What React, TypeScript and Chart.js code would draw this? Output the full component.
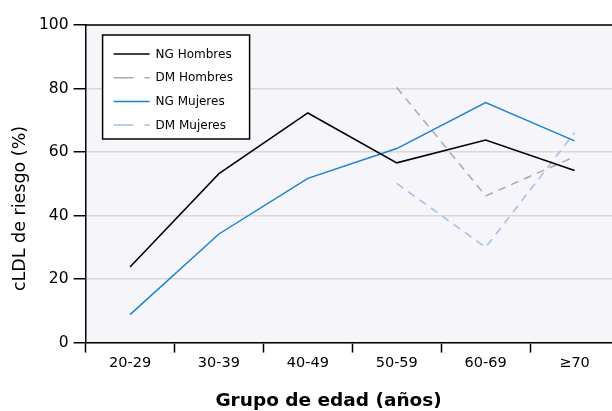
import React, { useEffect, useRef } from "react";
import { Chart, registerables } from "chart.js";

Chart.register(...registerables);

const categories = ["20-29", "30-39", "40-49", "50-59", "60-69", "≥70"];
const ngHombres = [23.8, 53.2, 72.3, 56.6, 63.8, 54.2];
const dmHombres = [null, null, null, 80.3, 46.2, 58.5];
const ngMujeres = [8.8, 34.2, 51.7, 61.1, 75.6, 63.5];
const dmMujeres = [null, null, null, 50.1, 30.0, 66.1];
const yTicks = [0, 20, 40, 60, 80, 100];
const seriesLabels = ["NG Hombres", "DM Hombres", "NG Mujeres", "DM Mujeres"];
const xTitle = "Grupo de edad (años)";
const yTitle = "cLDL de riesgo (%)";

const FONT = "'DejaVu Sans', sans-serif";

const framePlugin = {
  id: "frame",
  beforeDraw(chart: any) {
    const { ctx, chartArea: a } = chart;
    ctx.save();
    ctx.fillStyle = "#f5f5fa";
    ctx.fillRect(a.left, a.top, a.right - a.left, a.bottom - a.top);
    ctx.restore();
  },
  afterDraw(chart: any) {
    const { ctx, chartArea: a } = chart;
    ctx.save();
    // top frame line
    ctx.strokeStyle = "#000";
    ctx.lineWidth = 1.5;
    ctx.beginPath();
    ctx.moveTo(a.left, a.top);
    ctx.lineTo(a.right, a.top);
    ctx.stroke();

    // legend box
    const bx = a.left + 17;
    const by = a.top + 10;
    const bw = 147;
    const bh = 104;
    ctx.fillStyle = "#ffffff";
    ctx.fillRect(bx, by, bw, bh);
    ctx.strokeStyle = "#000";
    ctx.lineWidth = 1.5;
    ctx.strokeRect(bx, by, bw, bh);
    const ds = chart.data.datasets;
    ds.forEach((d: any, i: number) => {
      const y = by + 19 + i * 23.7;
      ctx.strokeStyle = d.borderColor;
      ctx.lineWidth = d.borderWidth;
      ctx.setLineDash(d.borderDash && d.borderDash.length ? [20, 11] : []);
      ctx.beginPath();
      ctx.moveTo(bx + 11, y);
      ctx.lineTo(bx + 47, y);
      ctx.stroke();
      ctx.setLineDash([]);
      ctx.fillStyle = "#000";
      ctx.font = `12px ${FONT}`;
      ctx.textBaseline = "middle";
      ctx.textAlign = "left";
      ctx.fillText(d.label, bx + 53, y + 0.5);
    });

    // axis titles
    ctx.fillStyle = "#000";
    ctx.font = `bold 18.5px ${FONT}`;
    ctx.textAlign = "center";
    ctx.textBaseline = "middle";
    ctx.fillText(xTitle, a.left + 243, chart.height - 10);

    ctx.save();
    ctx.translate(20, chart.height / 2 + 3);
    ctx.rotate(-Math.PI / 2);
    ctx.font = `17.5px ${FONT}`;
    ctx.fillText(yTitle, 0, 0);
    ctx.restore();

    ctx.restore();
  },
};

export default function App() {
  const ref = useRef<HTMLCanvasElement | null>(null);

  useEffect(() => {
    if (!ref.current) return;
    Chart.defaults.font.family = FONT;
    const chart = new Chart(ref.current, {
      type: "line",
      data: {
        labels: categories,
        datasets: [
          {
            label: seriesLabels[0],
            data: ngHombres,
            borderColor: "#000000",
            borderWidth: 1.5,
            pointRadius: 0,
            borderDash: [],
          },
          {
            label: seriesLabels[1],
            data: dmHombres as any,
            borderColor: "#a9a9a9",
            borderWidth: 1.5,
            pointRadius: 0,
            borderDash: [8, 6],
          },
          {
            label: seriesLabels[2],
            data: ngMujeres,
            borderColor: "#1a84cc",
            borderWidth: 1.5,
            pointRadius: 0,
            borderDash: [],
          },
          {
            label: seriesLabels[3],
            data: dmMujeres as any,
            borderColor: "#a5bfe6",
            borderWidth: 1.5,
            pointRadius: 0,
            borderDash: [8, 6],
          },
        ],
      },
      options: {
        animation: false,
        responsive: false,
        events: [],
        layout: { padding: { left: 34, top: 25, right: 6, bottom: 37 } },
        plugins: {
          legend: { display: false },
          tooltip: { enabled: false },
          title: { display: false },
        },
        scales: {
          x: {
            type: "category",
            offset: true,
            grid: {
              offset: true,
              drawOnChartArea: false,
              drawTicks: true,
              tickLength: 10,
              tickColor: "#000",
              tickWidth: 1.5,
            },
            border: { color: "#000", width: 1.5 },
            ticks: {
              color: "#000",
              font: { size: 14.5 },
              padding: 2,
              maxRotation: 0,
              autoSkip: false,
            },
          },
          y: {
            min: 0,
            max: 100,
            afterBuildTicks: (scale: any) => {
              scale.ticks = yTicks.map((v) => ({ value: v }));
            },
            grid: {
              color: "#d9d9d9",
              lineWidth: 1.5,
              tickLength: 12,
              tickColor: "#000",
              tickWidth: 1.5,
            },
            border: { color: "#000", width: 1.5 },
            ticks: {
              color: "#000",
              font: { size: 15.5 },
              padding: 5,
            },
          },
        },
      },
      plugins: [framePlugin],
    });
    return () => chart.destroy();
  }, []);

  return (
    <div
      style={{
        position: "fixed",
        left: 0,
        top: 0,
        width: 612,
        height: 411,
        overflow: "hidden",
        background: "#fff",
      }}
    >
      <canvas ref={ref} width={625} height={411} style={{ display: "block" }} />
    </div>
  );
}
